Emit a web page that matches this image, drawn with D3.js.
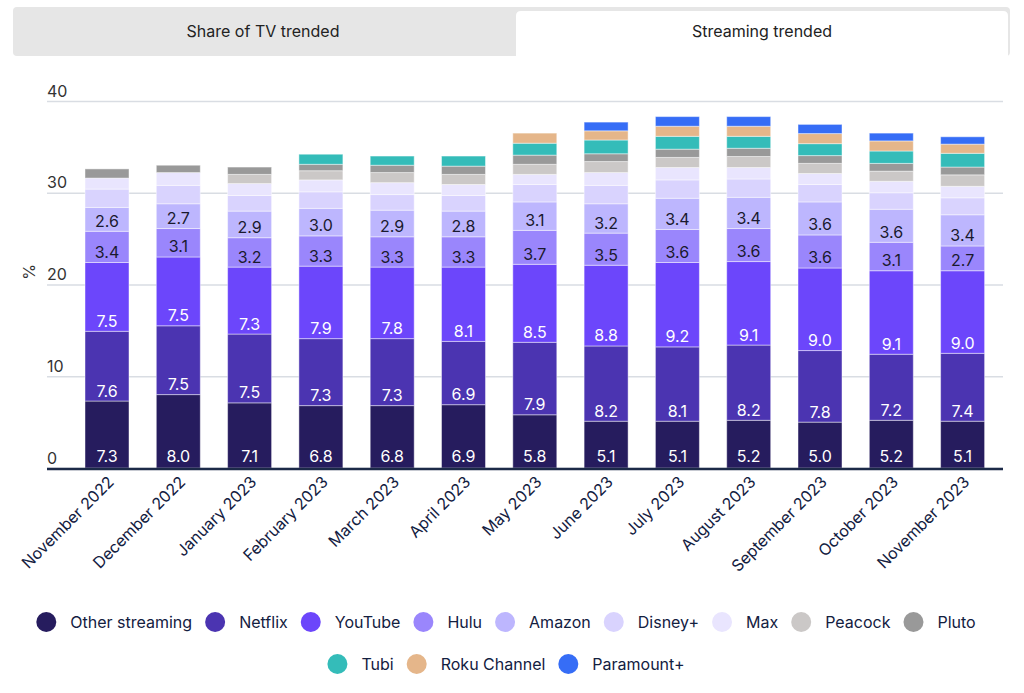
<!DOCTYPE html>
<html>
<head>
<meta charset="utf-8">
<script src="https://cdn.jsdelivr.net/npm/d3@7"></script>
<style>
  html, body { margin: 0; padding: 0; background: #ffffff; }
  svg { display: block; font-family: Inter, "Noto Sans", sans-serif; }
</style>
</head>
<body>
<svg id="chart" width="1024" height="693"></svg>
<script>
const months = ["November 2022","December 2022","January 2023","February 2023","March 2023","April 2023","May 2023","June 2023","July 2023","August 2023","September 2023","October 2023","November 2023"];
const seriesNames = ["Other streaming","Netflix","YouTube","Hulu","Amazon","Disney+","Max","Peacock","Pluto","Tubi","Roku Channel","Paramount+"];
const seriesColors = ["#261c5e","#4b34b1","#6c46fb","#9a86fc","#bdb6fe","#d9d3fe","#e9e5fe","#cbc8c7","#999999","#34bcb9","#e5b68a","#366df6"];
const otherStreaming = [7.3,8.0,7.1,6.8,6.8,6.9,5.8,5.1,5.1,5.2,5.0,5.2,5.1];
const netflix        = [7.6,7.5,7.5,7.3,7.3,6.9,7.9,8.2,8.1,8.2,7.8,7.2,7.4];
const youtube        = [7.5,7.5,7.3,7.9,7.8,8.1,8.5,8.8,9.2,9.1,9.0,9.1,9.0];
const hulu           = [3.4,3.1,3.2,3.3,3.3,3.3,3.7,3.5,3.6,3.6,3.6,3.1,2.7];
const amazon         = [2.6,2.7,2.9,3.0,2.9,2.8,3.1,3.2,3.4,3.4,3.6,3.6,3.4];
const disney         = [2.0,2.0,1.7,1.8,1.7,1.7,1.9,2.0,2.0,2.0,1.9,1.8,1.85];
const maxSvc         = [1.2,1.4,1.3,1.3,1.3,1.2,1.1,1.4,1.35,1.25,1.2,1.25,1.25];
const peacock        = [0,0,1.0,1.0,1.1,1.1,1.1,1.2,1.1,1.2,1.1,1.1,1.25];
const pluto          = [1.0,0.8,0.8,0.7,0.8,0.9,1.0,0.85,0.9,0.9,0.85,0.85,0.85];
const tubi           = [0,0,0,1.1,1.0,1.1,1.3,1.5,1.4,1.3,1.3,1.35,1.5];
const roku           = [0,0,0,0,0,0,1.1,1.0,1.1,1.1,1.1,1.1,1.0];
const paramount      = [0,0,0,0,0,0,0,0.95,1.05,1.05,1.0,0.85,0.8];
const yTicks = [0,10,20,30,40];
const tabLabels = ["Share of TV trended","Streaming trended"];
const labeledSeries = 5;

const seriesValues = [otherStreaming,netflix,youtube,hulu,amazon,disney,maxSvc,peacock,pluto,tubi,roku,paramount];
const table = months.map((m,i) => {
  const row = {month: m};
  seriesNames.forEach((s,k) => row[s] = seriesValues[k][i]);
  return row;
});

const svg = d3.select("#chart");
const textColor = "#13203f";
const fs = 16;

// Tabs
svg.append("rect").attr("x",13).attr("y",7).attr("width",997).attr("height",49).attr("rx",4).attr("fill","#e6e6e6");
svg.append("path").attr("d","M516,56 L516,16 Q516,11 521,11 L1003,11 Q1008,11 1008,16 L1008,56 Z").attr("fill","#ffffff");
svg.append("text").attr("x",263).attr("y",37).attr("text-anchor","middle").attr("font-size",fs).attr("fill","#222").text(tabLabels[0]);
svg.append("text").attr("x",762).attr("y",37).attr("text-anchor","middle").attr("font-size",fs).attr("fill","#222").text(tabLabels[1]);

const y = d3.scaleLinear().domain([0,40]).range([468,101]);
const x = d3.scaleBand().domain(months).range([85,984.6]).paddingInner(0.383).paddingOuter(0);

// Gridlines + tick labels
const gx0 = 47, gx1 = 1003;
const yAxis = d3.axisLeft(y).tickValues(yTicks).tickSize(-(gx1-gx0)).tickFormat(d3.format("d"));
const gy = svg.append("g").attr("transform",`translate(${gx0},0)`).call(yAxis);
gy.select(".domain").remove();
gy.selectAll(".tick line").attr("stroke","#d9dde3").attr("stroke-width",1.5);
gy.selectAll(".tick text").attr("x",0).attr("dy",null).attr("y",-5).attr("text-anchor","start")
  .attr("font-size",fs).attr("fill","#333").attr("font-family","Inter, sans-serif");

svg.append("text").attr("transform","translate(35,272) rotate(-90)").attr("text-anchor","middle")
  .attr("font-size",fs).attr("fill","#333").text("%");

// Stacks
const stack = d3.stack().keys(seriesNames);
const stacked = stack(table);

const layers = svg.append("g").selectAll("g").data(stacked).join("g")
  .attr("fill",(d,i) => seriesColors[i]);
layers.selectAll("rect").data(d => d.filter(p => p[1]-p[0] > 0)).join("rect")
  .attr("x",d => x(d.data.month))
  .attr("width",x.bandwidth())
  .attr("y",d => y(d[1]))
  .attr("height",d => y(d[0]) - y(d[1]))
  .attr("stroke","#ffffff").attr("stroke-opacity",0.45).attr("stroke-width",1);

// Labels
stacked.slice(0,labeledSeries).forEach((layer,k) => {
  svg.append("g").selectAll("text").data(layer).join("text")
    .attr("x",d => x(d.data.month) + x.bandwidth()/2)
    .attr("y",d => y(d[0]) - (k===0 ? 6 : 4.5))
    .attr("text-anchor","middle")
    .attr("font-size",fs)
    .attr("fill",k < 3 ? "#ffffff" : "#1a1a2e")
    .text(d => d3.format(".1f")(d[1]-d[0]));
});

// X axis baseline
svg.append("line").attr("x1",gx0).attr("x2",gx1).attr("y1",469).attr("y2",469)
  .attr("stroke","#1c2a48").attr("stroke-width",2.5);

// X labels
const xAxis = d3.axisBottom(x).tickSize(0).tickPadding(0);
const gxA = svg.append("g").attr("transform","translate(0,470)").call(xAxis);
gxA.select(".domain").remove();
gxA.selectAll(".tick text")
  .attr("font-size",fs).attr("fill",textColor).attr("font-family","Inter, sans-serif")
  .attr("text-anchor","end").attr("dy",null).attr("y",0)
  .attr("transform","translate(8,13) rotate(-45)");

// Legend
const legend = svg.append("g");
const items = seriesNames.map((name,i) => {
  const g = legend.append("g");
  g.append("circle").attr("cx",10).attr("cy",0).attr("r",10).attr("fill",seriesColors[i]);
  const t = g.append("text").attr("x",34).attr("y",6).attr("font-size",fs).attr("fill",textColor).text(name);
  const w = 34 + t.node().getComputedTextLength();
  return {g, w};
});
const gap = 13, maxW = 945;
const rows = [];
let cur = [], curW = 0;
items.forEach(it => {
  const add = (cur.length ? gap : 0) + it.w;
  if (cur.length && curW + add > maxW) { rows.push({items:cur,w:curW}); cur=[]; curW=0; }
  curW += (cur.length ? gap : 0) + it.w; cur.push(it);
});
if (cur.length) rows.push({items:cur,w:curW});
rows.forEach((r,ri) => {
  let xx = 506 - r.w/2;
  r.items.forEach(it => {
    it.g.attr("transform",`translate(${xx},${622 + ri*42})`);
    xx += it.w + gap;
  });
});
</script>
</body>
</html>
